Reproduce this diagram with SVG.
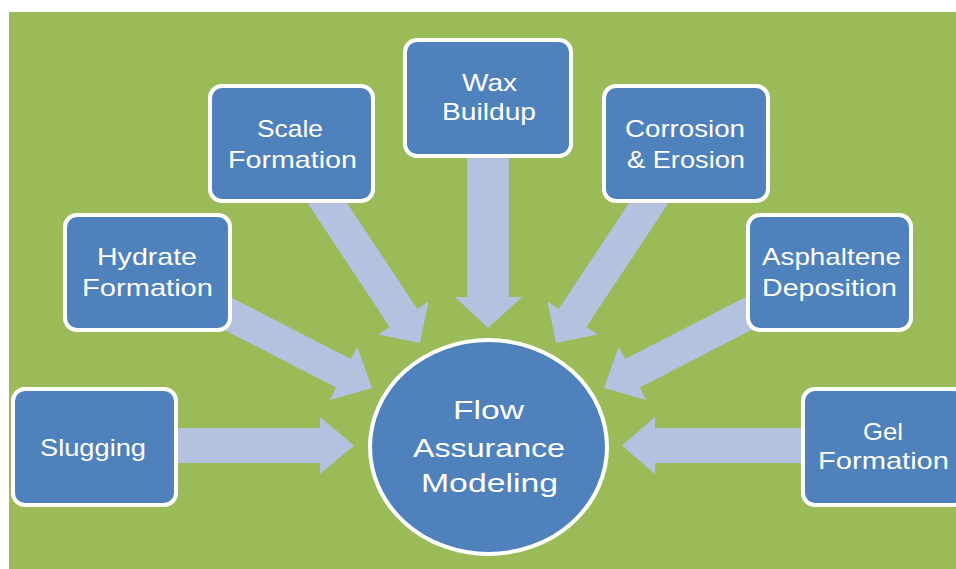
<svg xmlns="http://www.w3.org/2000/svg" width="956" height="569" viewBox="0 0 956 569">
<style>
.box{fill:#4F81BD;stroke:#FFFFFF;stroke-width:4}
.arrow{fill:#B4C2DF}
.t{font-family:"Liberation Sans","Open Sans",sans-serif;font-size:24px;fill:#FFFFFF;text-anchor:middle}
.c{font-size:26px}
</style>
<rect x="0" y="0" width="956" height="569" fill="#FFFFFF"/>
<rect x="9" y="12" width="947" height="557" fill="#9BBB59"/>
<g id="connectors">
<polygon class="arrow" points="170,428 320,428 320,417 354,445.5 320,474 320,463 170,463"/>
<polygon class="arrow" points="806,428 655,428 655,417 622,445.5 655,474 655,463 806,463"/>
<polygon class="arrow" points="467,150 467,297 455,297 488,328 522,297 509,297 509,150"/>
<polygon class="arrow" points="308.2,204.1 389.7,327.1 378.4,334.6 420,343 428.5,301.4 417.2,308.9 335.8,185.9"/>
<polygon class="arrow" points="667.8,204.1 586.3,327.1 597.6,334.6 556,343 547.5,301.4 558.8,308.9 640.2,185.9"/>
<polygon class="arrow" points="207.7,321.4 336.2,387.6 329.8,400.1 372,388 357.3,346.7 350.9,359.1 222.3,293.0"/>
<polygon class="arrow" points="768.3,321.4 639.8,387.6 646.2,400.1 604,388 618.7,346.7 625.1,359.1 753.7,293.0"/>
</g>
<g id="slugging">
<rect class="box" x="13" y="389" width="163" height="116" rx="12"/>
<text class="t" x="93" y="456" textLength="106" lengthAdjust="spacingAndGlyphs">Slugging</text>
</g>
<g id="hydrate">
<rect class="box" x="65" y="215" width="165" height="115" rx="12"/>
<text class="t" x="147" y="265" textLength="100" lengthAdjust="spacingAndGlyphs">Hydrate</text>
<text class="t" x="147.5" y="296" textLength="131" lengthAdjust="spacingAndGlyphs">Formation</text>
</g>
<g id="scale">
<rect class="box" x="210" y="86" width="163" height="115" rx="12"/>
<text class="t" x="290" y="137" textLength="66" lengthAdjust="spacingAndGlyphs">Scale</text>
<text class="t" x="292.5" y="168" textLength="129" lengthAdjust="spacingAndGlyphs">Formation</text>
</g>
<g id="wax">
<rect class="box" x="405" y="40" width="166" height="116" rx="12"/>
<text class="t" x="489.5" y="91" textLength="55" lengthAdjust="spacingAndGlyphs">Wax</text>
<text class="t" x="489" y="120" textLength="94" lengthAdjust="spacingAndGlyphs">Buildup</text>
</g>
<g id="corrosion">
<rect class="box" x="604" y="86" width="164" height="115" rx="12"/>
<text class="t" x="685" y="137" textLength="120" lengthAdjust="spacingAndGlyphs">Corrosion</text>
<text class="t" x="686" y="168" textLength="118" lengthAdjust="spacingAndGlyphs">&amp; Erosion</text>
</g>
<g id="asphaltene">
<rect class="box" x="748" y="215" width="163" height="115" rx="12"/>
<text class="t" x="831.5" y="265" textLength="139" lengthAdjust="spacingAndGlyphs">Asphaltene</text>
<text class="t" x="829.5" y="296" textLength="135" lengthAdjust="spacingAndGlyphs">Deposition</text>
</g>
<g id="gel">
<rect class="box" x="803" y="389" width="163" height="116" rx="12"/>
<text class="t" x="883" y="440" textLength="40" lengthAdjust="spacingAndGlyphs">Gel</text>
<text class="t" x="883.5" y="469" textLength="131" lengthAdjust="spacingAndGlyphs">Formation</text>
</g>
<g id="flow-assurance">
<ellipse class="box" cx="488.5" cy="447" rx="118.5" ry="107"/>
<text class="t c" x="488.5" y="419" textLength="71" lengthAdjust="spacingAndGlyphs">Flow</text>
<text class="t c" x="489" y="457" textLength="152" lengthAdjust="spacingAndGlyphs">Assurance</text>
<text class="t c" x="489.5" y="492" textLength="137" lengthAdjust="spacingAndGlyphs">Modeling</text>
</g>
</svg>
